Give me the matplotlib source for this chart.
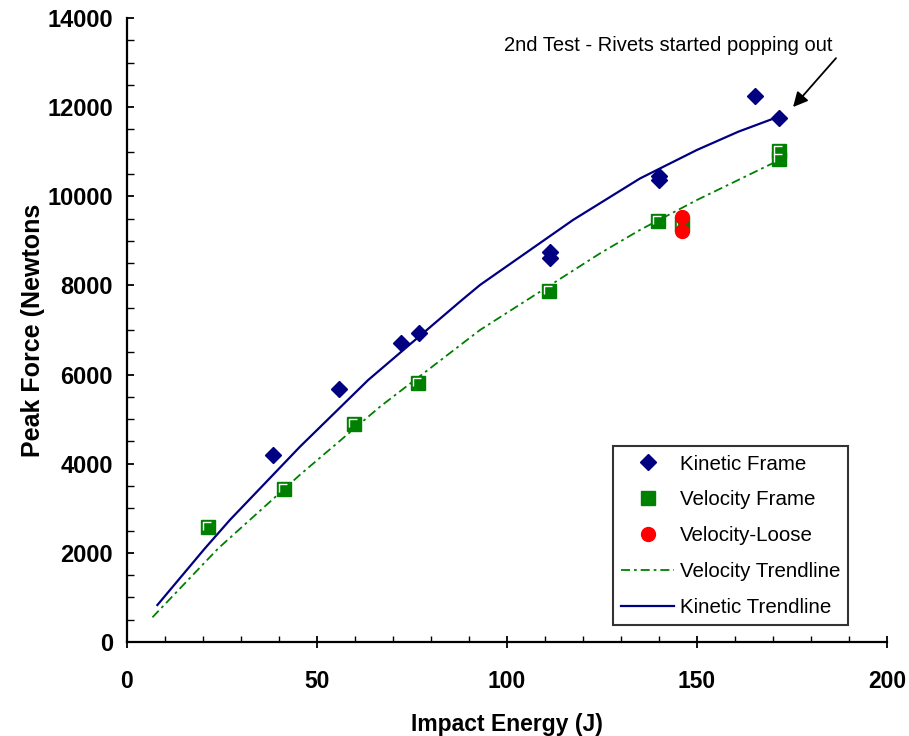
import matplotlib
matplotlib.use("Agg")
import matplotlib.pyplot as plt
from matplotlib.path import Path
from matplotlib.ticker import MultipleLocator

plt.rcParams['font.family'] = ['Liberation Sans', 'DejaVu Sans']

# ---- data ----
kin_x = [38.3, 55.8, 72.0, 76.8, 111.3, 111.3, 140.0, 140.0, 165.3, 171.7]
kin_y = [4196, 5670, 6701, 6926, 8761, 8627, 10466, 10365, 12250, 11750]

vel_x = [21.4, 41.3, 59.7, 76.5, 111.1, 139.7, 146.1, 171.7, 171.7]
vel_y = [2587, 3433, 4898, 5818, 7882, 9446, 9380, 10830, 11025]

loose_x = [146.1, 146.1]
loose_y = [9531, 9221]

kin_trend_x = [8.0, 20.5, 27.1, 45.5, 63.5, 88.1, 92.9, 117.4, 135.0, 150.0, 160.9, 171.6]
kin_trend_y = [830, 2100, 2740, 4380, 5880, 7670, 8010, 9470, 10400, 11040, 11450, 11790]

vel_trend_x = [6.7, 24.0, 45.5, 66.6, 92.9, 124.5, 135.0, 150.0, 171.6]
vel_trend_y = [554, 2100, 3750, 5280, 7000, 8720, 9245, 9917, 10810]

x_ticks = [0, 50, 100, 150, 200]
y_ticks = [0, 2000, 4000, 6000, 8000, 10000, 12000, 14000]

annot_text = "2nd Test - Rivets started popping out"

NAVY = '#000080'
GREEN = '#008000'
RED = '#FF0000'

fig = plt.figure(figsize=(9.09, 7.36), dpi=100)
ax = fig.add_axes([0.1397, 0.1277, 0.836, 0.8478])

# inner white highlight for the square markers
hl = Path([(-1, -0.6), (-1, 1), (0.75, 1)], [Path.MOVETO, Path.LINETO, Path.LINETO])

ax.plot(kin_x, kin_y, linestyle='none', marker='D', markersize=8.3,
        color=NAVY, markeredgecolor=NAVY, label='Kinetic Frame', zorder=4)
ax.plot(vel_x, vel_y, linestyle='none', marker='s', markersize=9.5,
        color=GREEN, markeredgecolor=GREEN, label='Velocity Frame', zorder=4)
ax.plot(vel_x, vel_y, linestyle='none', marker=hl, markersize=6.5,
        markerfacecolor='none', markeredgecolor='white', markeredgewidth=1.0, zorder=4.5)
ax.plot(loose_x, loose_y, linestyle='none', marker='o', markersize=10,
        color=RED, markeredgecolor=RED, label='Velocity-Loose', zorder=5)
ax.plot(vel_trend_x, vel_trend_y, color=GREEN, linewidth=1.3,
        dashes=(5, 2.2, 1.5, 2.2), label='Velocity Trendline', zorder=3)
ax.plot(kin_trend_x, kin_trend_y, color=NAVY, linewidth=1.6,
        label='Kinetic Trendline', zorder=3)

ax.set_xlim(0, 200)
ax.set_ylim(0, 14000)
ax.set_xticks(x_ticks)
ax.set_yticks(y_ticks)
ax.xaxis.set_minor_locator(MultipleLocator(10))
ax.yaxis.set_minor_locator(MultipleLocator(500))

for s in ['top', 'right']:
    ax.spines[s].set_visible(False)
for s in ['left', 'bottom']:
    ax.spines[s].set_linewidth(1.6)
    ax.spines[s].set_color('black')

ax.tick_params(axis='x', which='major', direction='inout', length=9, width=1.3, pad=16)
ax.tick_params(axis='x', which='minor', direction='in', length=4, width=1.0)
ax.tick_params(axis='y', which='major', direction='in', length=5, width=1.3, pad=10)
ax.tick_params(axis='y', which='minor', direction='in', length=5, width=1.0)

for lab in ax.get_xticklabels():
    lab.set_fontsize(16.5)
    lab.set_fontweight('bold')
for lab in ax.get_yticklabels():
    lab.set_fontsize(17)
    lab.set_fontweight('bold')

ax.set_xlabel('Impact Energy (J)', fontsize=16.5, fontweight='bold', labelpad=14)
ax.set_ylabel('Peak Force (Newtons', fontsize=18, fontweight='bold', labelpad=2)

ax.text(142.4, 13394, annot_text, fontsize=14.5, ha='center', va='center', zorder=6)
ax.annotate('', xy=(175.3, 12003), xytext=(186.6, 13100),
            arrowprops=dict(arrowstyle='-|>', color='black', lw=1.3,
                            mutation_scale=22, shrinkA=0, shrinkB=0))

leg = ax.legend(loc='lower right', bbox_to_anchor=(0.949, 0.027), borderaxespad=0,
                fontsize=14.8, frameon=True, fancybox=False, edgecolor='black',
                handlelength=2.6, handletextpad=0.25, labelspacing=0.82,
                borderpad=0.4, numpoints=1)
leg.get_frame().set_linewidth(1.5)

fig.savefig('out.png', dpi=100, facecolor='white')
